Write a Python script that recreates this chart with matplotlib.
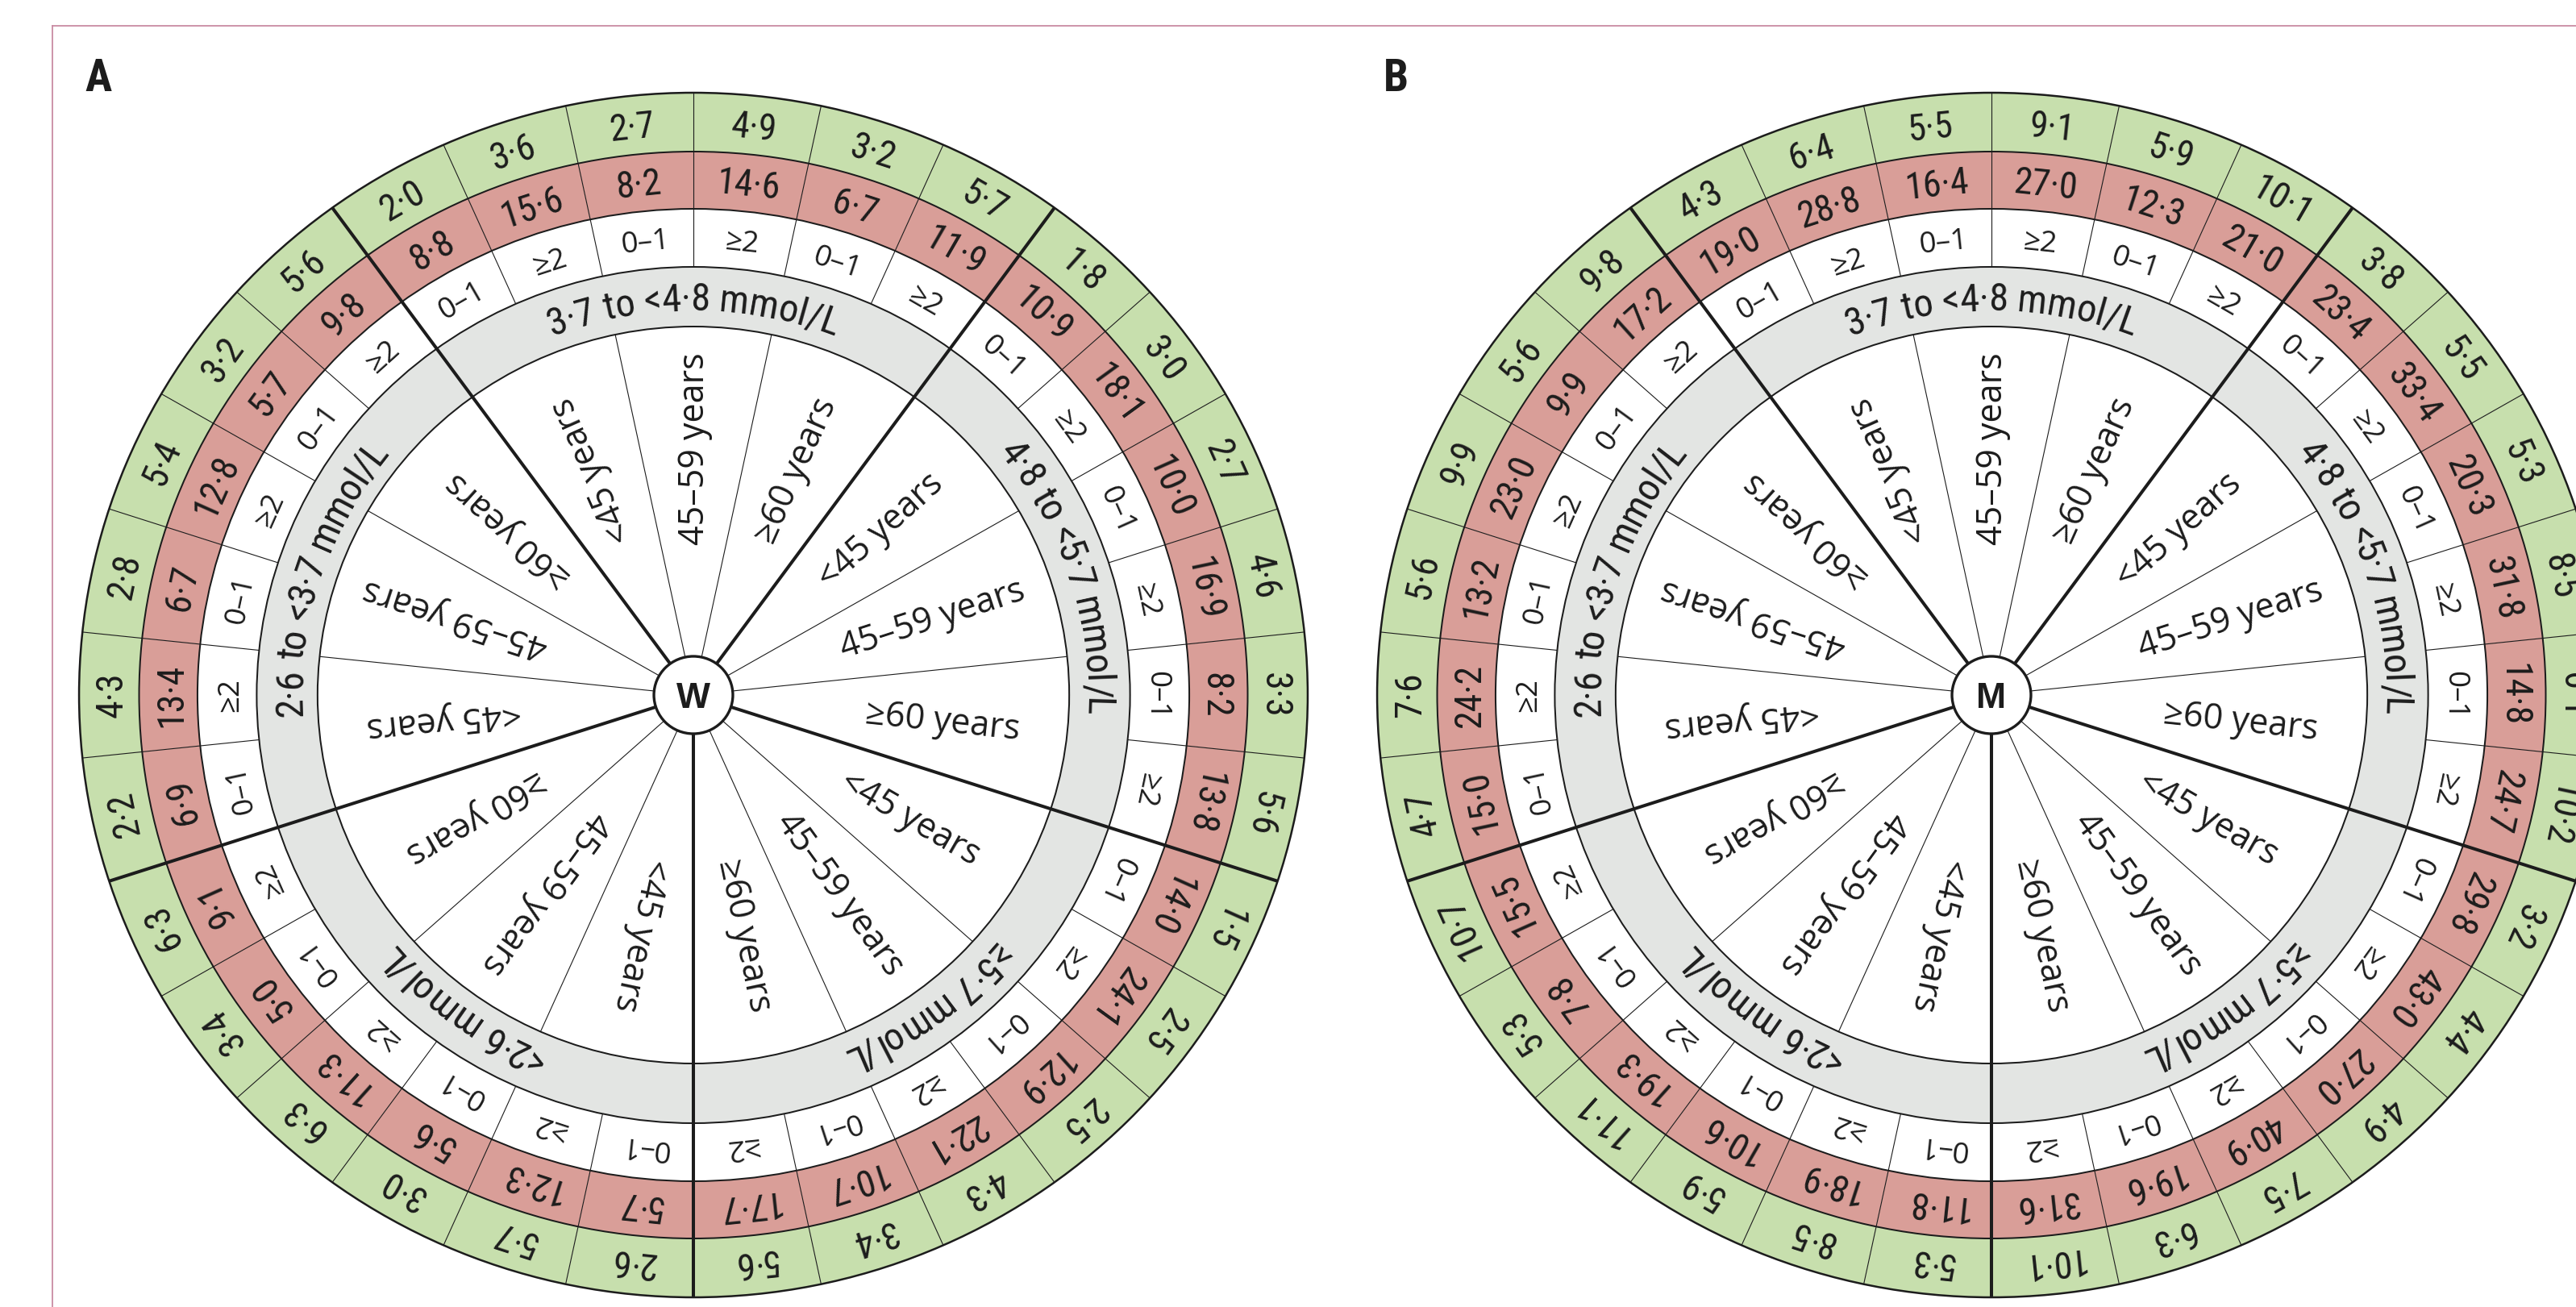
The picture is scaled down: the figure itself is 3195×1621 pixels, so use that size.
import numpy as np
import matplotlib
matplotlib.use("Agg")
import matplotlib.pyplot as plt
from matplotlib.patches import Wedge, Circle
from matplotlib.transforms import Affine2D
from matplotlib import font_manager as fm
from matplotlib.ft2font import FT2Font

# ---------------- data ----------------
ldl_categories = ["<2·6 mmol/L", "2·6 to <3·7 mmol/L", "3·7 to <4·8 mmol/L",
                  "4·8 to <5·7 mmol/L", "≥5·7 mmol/L"]
age_groups = ["<45 years", "45–59 years", "≥60 years"]
risk_groups = ["0–1", "≥2"]
panel_labels = ["A", "B"]
sex_labels = ["W", "M"]

# order: category (as above) -> age group -> risk group
women_outer = [2.6, 5.7, 3.0, 6.3, 3.4, 6.3,
               2.2, 4.3, 2.8, 5.4, 3.2, 5.6,
               2.0, 3.6, 2.7, 4.9, 3.2, 5.7,
               1.8, 3.0, 2.7, 4.6, 3.3, 5.6,
               1.5, 2.5, 2.5, 4.3, 3.4, 5.6]
women_inner = [5.7, 12.3, 5.6, 11.3, 5.0, 9.1,
               6.9, 13.4, 6.7, 12.8, 5.7, 9.8,
               8.8, 15.6, 8.2, 14.6, 6.7, 11.9,
               10.9, 18.1, 10.0, 16.9, 8.2, 13.8,
               14.0, 24.1, 12.9, 22.1, 10.7, 17.7]
men_outer = [5.3, 8.5, 5.9, 11.1, 5.3, 10.7,
             4.7, 7.6, 5.6, 9.9, 5.6, 9.8,
             4.3, 6.4, 5.5, 9.1, 5.9, 10.1,
             3.8, 5.5, 5.3, 8.5, 6.1, 10.2,
             3.2, 4.4, 4.9, 7.5, 6.3, 10.1]
men_inner = [11.8, 18.9, 10.6, 19.3, 7.8, 15.5,
             15.0, 24.2, 13.2, 23.0, 9.9, 17.2,
             19.0, 28.8, 16.4, 27.0, 12.3, 21.0,
             23.4, 33.4, 20.3, 31.8, 14.8, 24.7,
             29.8, 43.0, 27.0, 40.9, 19.6, 31.6]

# ---------------- layout / style ----------------
WPX, HPX, DPI = 3195, 1621, 100
CENTERS = [(860, 862), (2470, 862)]
SX = 1.02
R_OUT, R_GR, R_RW, R_WG, R_GI, R_C = 747, 674, 603, 531, 457, 48
START = 180.0  # first category starts at bottom, proceeding clockwise

GREEN = "#c7dfad"
RED = "#d99e98"
GREY = "#e3e5e3"
INK = "#1c1c1c"
BORDER = "#c98ba3"

names = {f.name for f in fm.fontManager.ttflist}


def pick(*cands):
    for c in cands:
        if c in names:
            return c
    return "DejaVu Sans"


NARROW = pick("Liberation Sans Narrow", "Roboto Condensed", "Liberation Sans")
HUMAN = pick("Open Sans", "Noto Sans", "Lato", "DejaVu Sans")
BOLD = pick("Liberation Sans", "Roboto", "DejaVu Sans")


def fmt(v):
    return f"{v:.1f}".replace(".", "·")


def px(pt):
    return pt * DPI / 72.0


def advances(s, family, size_pt):
    fp = fm.FontProperties(family=family, size=size_pt)
    font = FT2Font(fm.findfont(fp))
    font.set_size(size_pt, DPI)
    out = []
    for ch in s:
        try:
            g = font.load_char(ord(ch))
            out.append(g.linearHoriAdvance / 65536.0)
        except Exception:
            out.append(0.5 * px(size_pt))
    return out


fig = plt.figure(figsize=(WPX / DPI, HPX / DPI), dpi=DPI)
ax = fig.add_axes([0, 0, 1, 1])
ax.set_xlim(0, WPX)
ax.set_ylim(HPX, 0)
ax.axis("off")


def pol(r, th):
    t = np.radians(th)
    return r * np.sin(t), r * np.cos(t)


def tan_text(T, s, th, r_mid, family, size, cap=0.716, **kw):
    rb = r_mid - cap * px(size) / 2
    x, y = pol(rb, th)
    ax.text(x, y, s, transform=T, rotation=-th, rotation_mode="anchor",
            ha="center", va="baseline", fontsize=size, family=family,
            color=INK, zorder=6, **kw)


def arc_text(T, s, th_c, r_mid, family, size, cap=0.716):
    adv = advances(s, family, size)
    total = sum(adv)
    rb = r_mid - cap * px(size) / 2
    pos = -total / 2
    for ch, a in zip(s, adv):
        smid = pos + a / 2
        pos += a
        if ch == " ":
            continue
        th = th_c + np.degrees(smid / r_mid)
        x, y = pol(rb, th)
        ax.text(x, y, ch, transform=T, rotation=-th, rotation_mode="anchor",
                ha="center", va="baseline", fontsize=size, family=family,
                color=INK, zorder=6)


def rad_text(T, s, th, r_c, family, size, mid=0.30):
    rho = 90 - th
    up = np.radians(rho + 90)
    off = mid * px(size)
    x, y = pol(r_c, th)
    x -= off * np.cos(up)
    y -= off * np.sin(up)
    ax.text(x, y, s, transform=T, rotation=rho, rotation_mode="anchor",
            ha="center", va="baseline", fontsize=size, family=family,
            color=INK, zorder=6)


def draw_wheel(center, outer_vals, inner_vals, sex_label, panel_label, panel_x):
    cx, cy = center
    T = Affine2D().scale(SX, -1).translate(cx, cy) + ax.transData
    n = len(outer_vals)
    step = 360.0 / n
    # rings
    for i in range(n):
        a0 = START + i * step
        a1 = a0 + step
        ax.add_patch(Wedge((0, 0), R_OUT, 90 - a1, 90 - a0, width=R_OUT - R_GR,
                           transform=T, fc=GREEN, ec="none", zorder=1))
        ax.add_patch(Wedge((0, 0), R_GR, 90 - a1, 90 - a0, width=R_GR - R_RW,
                           transform=T, fc=RED, ec="none", zorder=1))
    ax.add_patch(Wedge((0, 0), R_WG, 0, 360, width=R_WG - R_GI, transform=T,
                       fc=GREY, ec="none", zorder=1))
    # radial lines
    for k in range(n):
        th = START + k * step
        if k % 6 == 0:
            (x0, y0), (x1, y1) = pol(R_C, th), pol(R_OUT, th)
            ax.plot([x0, x1], [y0, y1], transform=T, color=INK, lw=2.9,
                    solid_capstyle="butt", zorder=3)
        else:
            (x0, y0), (x1, y1) = pol(R_WG, th), pol(R_OUT, th)
            ax.plot([x0, x1], [y0, y1], transform=T, color=INK, lw=0.8,
                    solid_capstyle="butt", zorder=2)
            if k % 2 == 0:
                (x0, y0), (x1, y1) = pol(R_C, th), pol(R_GI, th)
                ax.plot([x0, x1], [y0, y1], transform=T, color=INK, lw=0.8,
                        solid_capstyle="butt", zorder=2)
    # circles
    for r, lw in [(R_OUT, 1.8), (R_GR, 1.45), (R_RW, 1.45), (R_WG, 1.45), (R_GI, 1.45)]:
        ax.add_patch(Circle((0, 0), r, transform=T, fill=False, ec=INK, lw=lw, zorder=4))
    ax.add_patch(Circle((0, 0), R_C, transform=T, fc="white", ec=INK, lw=2.4, zorder=5))
    cap = 0.716 * px(32)
    ax.text(0, -cap / 2, sex_label, transform=T, ha="center", va="baseline",
            fontsize=32, fontweight="bold", family=BOLD, color=INK, zorder=6)
    # cell texts
    for i in range(n):
        th = START + (i + 0.5) * step
        tan_text(T, fmt(outer_vals[i]), th, (R_OUT + R_GR) / 2, NARROW, 33)
        tan_text(T, fmt(inner_vals[i]), th, (R_GR + R_RW) / 2, NARROW, 33)
        tan_text(T, risk_groups[i % 2], th, (R_RW + R_WG) / 2, HUMAN, 26.5, cap=0.714)
    # category labels (curved)
    for c, lab in enumerate(ldl_categories):
        th_c = START + (c + 0.5) * 72
        arc_text(T, lab, th_c, (R_WG + R_GI) / 2, NARROW, 35)
        for a, ag in enumerate(age_groups):
            th = START + c * 72 + (a + 0.5) * 24
            rad_text(T, ag, th, 305, HUMAN, 31)
    # panel letter
    ax.text(panel_x, 113, panel_label, ha="left", va="baseline", fontsize=40,
            fontweight="bold", family=NARROW, color=INK, zorder=6)


draw_wheel(CENTERS[0], women_outer, women_inner, sex_labels[0], panel_labels[0], 105)
draw_wheel(CENTERS[1], men_outer, men_inner, sex_labels[1], panel_labels[1], 1716)

# frame lines of the original figure box
ax.plot([65, WPX], [32, 32], color=BORDER, lw=1.3, zorder=7)
ax.plot([65, 65], [32, HPX], color=BORDER, lw=1.3, zorder=7)

fig.savefig("out.png", dpi=DPI, facecolor="white")
